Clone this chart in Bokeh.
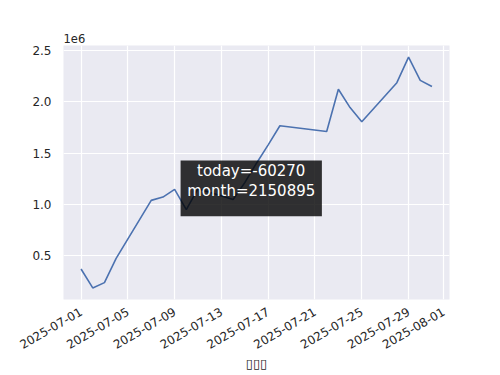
import math
import pandas as pd
from bokeh.plotting import figure
from bokeh.models import (ColumnDataSource, FixedTicker, DatetimeTickFormatter,
                          Range1d, BoxAnnotation, Label)
from bokeh.embed import file_html
from bokeh.resources import INLINE

# ---- data ----
dates = ["2025-07-01", "2025-07-02", "2025-07-03", "2025-07-04",
         "2025-07-07", "2025-07-08", "2025-07-09", "2025-07-10", "2025-07-11",
         "2025-07-14", "2025-07-15", "2025-07-16", "2025-07-17", "2025-07-18",
         "2025-07-22", "2025-07-23", "2025-07-24", "2025-07-25",
         "2025-07-28", "2025-07-29", "2025-07-30", "2025-07-31"]
month_values = [364000, 178000, 230000, 468000,
                1036000, 1068000, 1143000, 945000, 1150000,
                1045000, 1210000, 1400000, 1580000, 1767000,
                1711000, 2125000, 1945000, 1806000,
                2189000, 2440000, 2211165, 2150895]
x_tick_labels = ["2025-07-01", "2025-07-05", "2025-07-09", "2025-07-13",
                 "2025-07-17", "2025-07-21", "2025-07-25", "2025-07-29",
                 "2025-08-01"]
y_ticks = [0.5, 1.0, 1.5, 2.0, 2.5]
y_scale = 1e6
offset_text = "1e6"
x_label = "▯▯▯"
note_today = -60270
note_month = 2150895

FONT = "DejaVu Sans"
TXT = "#262626"
BG = "#EAEAF2"
LINE = "#4C72B0"

def to_ms(s):
    return (pd.to_datetime(s) - pd.Timestamp("1970-01-01")) / pd.Timedelta("1ms")

x = pd.to_datetime(dates)
src = ColumnDataSource(data=dict(x=x, y=month_values))

xmin, xmax = to_ms(dates[0]), to_ms(dates[-1])
xpad = 0.05 * (xmax - xmin)
ymin, ymax = min(month_values), max(month_values)
ypad = 0.05 * (ymax - ymin)

p = figure(width=500, height=375, x_axis_type="datetime",
           output_backend="svg", toolbar_location=None,
           x_range=Range1d(xmin - xpad, xmax + xpad),
           y_range=Range1d(ymin - ypad, ymax + ypad),
           min_border_left=63, min_border_right=51,
           min_border_top=45, min_border_bottom=76)

p.background_fill_color = BG
p.border_fill_color = "white"
p.outline_line_color = None

p.line("x", "y", source=src, line_color=LINE, line_width=1.6)

# title used as the offset text
p.title.text = offset_text
p.title.align = "left"
p.title.text_font = FONT
p.title.text_font_size = "11.5px"
p.title.text_font_style = "normal"
p.title.text_color = TXT
p.title.standoff = 5

# x axis
xa = p.xaxis[0]
xa.ticker = FixedTicker(ticks=[to_ms(t) for t in x_tick_labels])
fmt = "%Y-%m-%d"
xa.formatter = DatetimeTickFormatter(microseconds=fmt, milliseconds=fmt, seconds=fmt,
                                     minsec=fmt, minutes=fmt, hourmin=fmt, hours=fmt,
                                     days=fmt, months=fmt, years=fmt)
xa.major_label_orientation = math.pi / 6
xa.axis_label = x_label

# y axis
ya = p.yaxis[0]
ya.ticker = FixedTicker(ticks=[t * y_scale for t in y_ticks])
ya.major_label_overrides = {int(t * y_scale): f"{t:.1f}" for t in y_ticks}

for ax in (xa, ya):
    ax.axis_line_color = None
    ax.major_tick_line_color = None
    ax.minor_tick_line_color = None
    ax.major_tick_in = 0
    ax.major_tick_out = 0
    ax.major_label_text_font = FONT
    ax.major_label_text_font_size = "12px"
    ax.major_label_text_color = TXT
    ax.axis_label_text_font = FONT
    ax.axis_label_text_font_size = "13px"
    ax.axis_label_text_font_style = "normal"
    ax.axis_label_text_color = TXT
ya.major_label_standoff = 12
xa.major_label_standoff = 11
xa.axis_label_standoff = 0

for g in (p.xgrid[0], p.ygrid[0]):
    g.grid_line_color = "white"
    g.grid_line_width = 1.2
p.xgrid[0].ticker = xa.ticker
p.ygrid[0].ticker = ya.ticker

# annotation box
day = 86400000.0
x0 = xmin
box = BoxAnnotation(left=x0 + 8.51 * day, right=x0 + 20.59 * day,
                    top=1.426e6, bottom=0.880e6,
                    fill_color="black", fill_alpha=0.8, line_color=None)
p.add_layout(box)
lab = Label(x=x0 + 14.55 * day, y=1.426e6, y_offset=-1,
            text=f"today={note_today}\nmonth={note_month}",
            text_align="center", text_baseline="top",
            text_color="white", text_font=FONT, text_font_size="15px",
            text_line_height=1.15)
p.add_layout(lab)

open("out.html", "w").write(file_html(p, INLINE))
